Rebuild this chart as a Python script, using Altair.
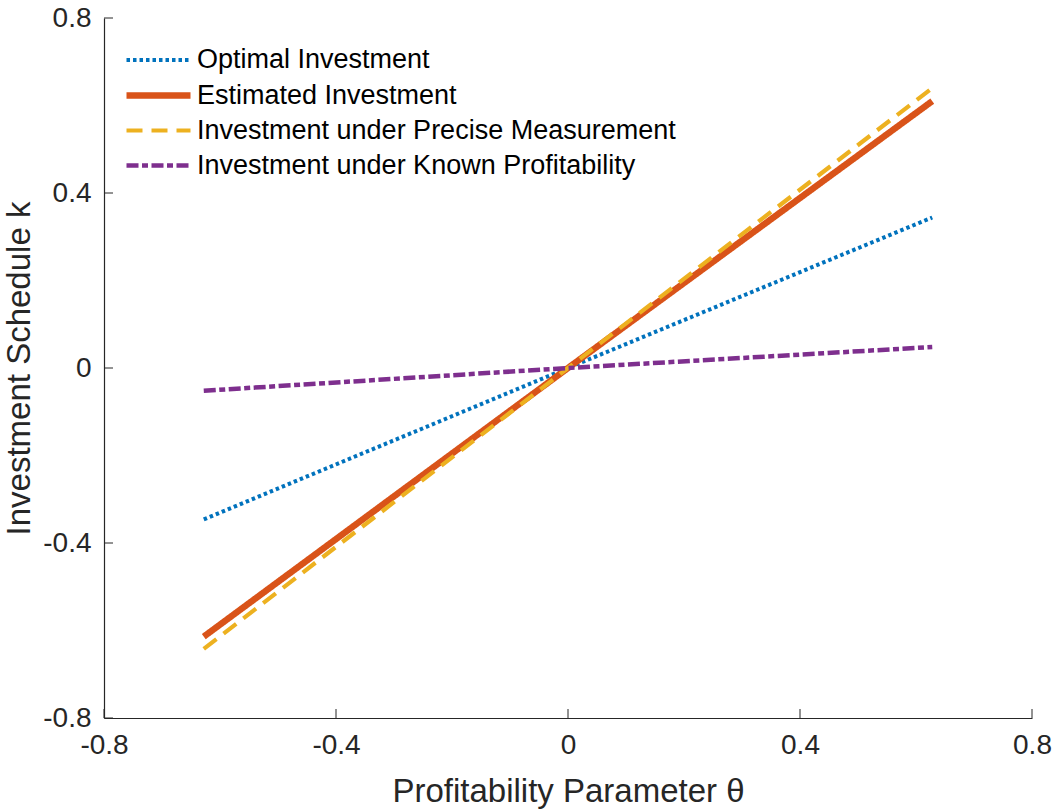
import altair as alt
import pandas as pd

# Profitability parameter grid and investment schedules
theta = [-0.628, 0.0, 0.628]
optimal = [-0.346, 0.0, 0.344]
estimated = [-0.614, 0.0, 0.610]
precise = [-0.642, 0.0, 0.640]
known = [-0.052, 0.0, 0.048]

series_names = [
    "Optimal Investment",
    "Estimated Investment",
    "Investment under Precise Measurement",
    "Investment under Known Profitability",
]
series_values = [optimal, estimated, precise, known]
colors = ["#0072BD", "#D95319", "#EDB120", "#7E2F8E"]
dashes = [[3.5, 3], [1, 0], [16, 9], [12, 3.5, 6, 3.5]]
widths = [4.0, 6.5, 4.2, 4.5]
tick_values = [-0.8, -0.4, 0.0, 0.4, 0.8]

rows = []
for order, (name, vals) in enumerate(zip(series_names, series_values)):
    for t, k in zip(theta, vals):
        rows.append({"theta": t, "k": k, "series": name, "order": order})
df = pd.DataFrame(rows)
ticks = pd.DataFrame({"v": tick_values})

FONT = "Liberation Sans"
AXIS_COLOR = "#262626"
W, H = 928, 700
LABEL_EXPR = "replace(datum.label, '\u2212', '-')"

xscale = alt.Scale(domain=[-0.8, 0.8], nice=False, zero=False)
yscale = alt.Scale(domain=[-0.8, 0.8], nice=False, zero=False)

# wide horizontal legend glyph: twice as long as the legend symbol size
LEGEND_GLYPH = "M-2,0L2,0"

lines = (
    alt.Chart(df)
    .mark_line(strokeCap="butt", clip=True)
    .encode(
        x=alt.X(
            "theta:Q",
            scale=xscale,
            axis=alt.Axis(
                values=tick_values,
                format="~g",
                labelExpr=LABEL_EXPR,
                labelFlush=False,
                title="Profitability Parameter θ",
                ticks=False,
                labelPadding=13,
                titlePadding=16,
            ),
        ),
        y=alt.Y(
            "k:Q",
            scale=yscale,
            axis=alt.Axis(
                values=tick_values,
                format="~g",
                labelExpr=LABEL_EXPR,
                labelFlush=False,
                title="Investment Schedule k",
                ticks=False,
                labelPadding=13,
                titlePadding=6,
            ),
        ),
        color=alt.Color(
            "series:N",
            scale=alt.Scale(domain=series_names, range=colors),
            sort=series_names,
            legend=alt.Legend(
                title=None,
                orient="none",
                legendX=35,
                legendY=24,
                symbolType=LEGEND_GLYPH,
                symbolSize=1024,
                labelFont=FONT,
                labelFontSize=27,
                labelColor="#000000",
                labelOffset=19,
                rowPadding=3,
                padding=0,
                labelLimit=700,
            ),
        ),
        strokeDash=alt.StrokeDash(
            "series:N",
            scale=alt.Scale(domain=series_names, range=dashes),
            sort=series_names,
            legend=alt.Legend(title=None),
        ),
        strokeWidth=alt.StrokeWidth(
            "series:N",
            scale=alt.Scale(type="ordinal", domain=series_names, range=widths),
            sort=series_names,
            legend=alt.Legend(title=None),
        ),
        order="order:Q",
    )
)

# Inward tick marks on both axes
xticks = (
    alt.Chart(ticks)
    .mark_rule(color=AXIS_COLOR, strokeWidth=1)
    .encode(x=alt.X("v:Q", scale=xscale), y=alt.value(H), y2=alt.value(H - 9))
)
yticks = (
    alt.Chart(ticks)
    .mark_rule(color=AXIS_COLOR, strokeWidth=1)
    .encode(y=alt.Y("v:Q", scale=yscale), x=alt.value(0), x2=alt.value(9))
)

chart = (
    alt.layer(xticks, yticks, lines)
    .properties(
        width=W,
        height=H,
        autosize=alt.AutoSizeParams(type="none"),
        padding={"left": 104, "top": 18, "right": 29, "bottom": 94},
    )
    .configure(font=FONT, background="#ffffff")
    .configure_view(stroke=None)
    .configure_axis(
        grid=False,
        domainColor=AXIS_COLOR,
        domainWidth=1.2,
        labelColor=AXIS_COLOR,
        labelFont=FONT,
        labelFontSize=28,
        titleFont=FONT,
        titleFontSize=33,
        titleFontWeight="normal",
        titleColor=AXIS_COLOR,
    )
)

chart.save("out.html", embed_options={"renderer": "svg", "actions": False})
